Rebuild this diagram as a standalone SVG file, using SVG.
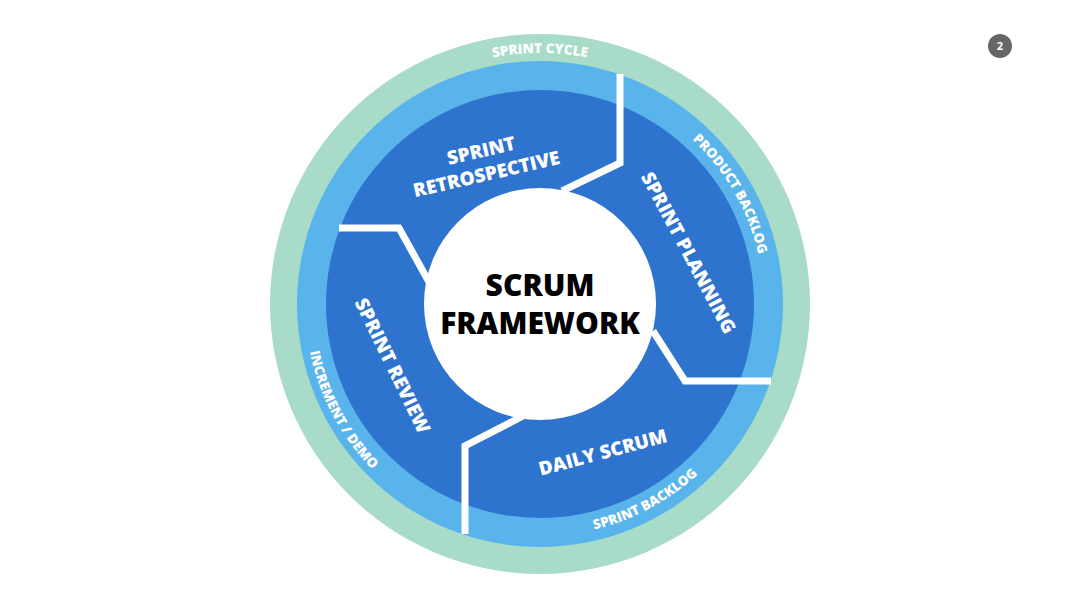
<svg xmlns="http://www.w3.org/2000/svg" width="1080" height="608" viewBox="0 0 1080 608">
<style>
.t{font-family:"Open Sans","Liberation Sans",sans-serif;font-weight:800;fill:#fff}
.r{font-size:13.5px}
.l{font-size:19px}
.sep{fill:none;stroke:#fff;stroke-width:7;stroke-linejoin:miter}
.c{font-family:"Open Sans","Liberation Sans",sans-serif;font-weight:800;font-size:30px;fill:#000}
</style>
<defs>
<path id="pc" d="M414.5,86.6 A251,251 0 0 1 665.5,86.6"/>
<path id="pb" d="M616.6,93.5 A224,224 0 0 1 760.6,342.9"/>
<path id="sb" d="M492,531 A233,233 0 0 0 756,390"/>
<path id="id" d="M310,258 A235,235 0 0 0 450,522"/>
</defs>
<rect width="1080" height="608" fill="#fff"/>
<g id="rings">
<circle cx="540" cy="304" r="270" fill="#a8dcc8"/>
<circle cx="540" cy="304" r="243" fill="#5ab4ec"/>
<circle cx="540" cy="304" r="214" fill="#2e74cf"/>
</g>
<g id="connectors">
<path class="sep" d="M620,74 V163 L562,191"/>
<path class="sep" d="M653,331 L685,381 H771"/>
<path class="sep" d="M465,534 V446 L523,416"/>
<path class="sep" d="M339,228 H399 L429,282"/>
</g>
<g id="center">
<circle cx="540" cy="304" r="116" fill="#fff"/>
<text x="540" y="296" text-anchor="middle" class="c">SCRUM</text>
<text x="540" y="334" text-anchor="middle" class="c">FRAMEWORK</text>
</g>
<g id="sprint-cycle"><text class="t r" text-anchor="middle"><textPath href="#pc" startOffset="50%">SPRINT CYCLE</textPath></text></g>
<g id="product-backlog"><text class="t r" text-anchor="middle"><textPath href="#pb" startOffset="50%">PRODUCT BACKLOG</textPath></text></g>
<g id="sprint-backlog"><text class="t r" text-anchor="middle"><textPath href="#sb" startOffset="50%">SPRINT BACKLOG</textPath></text></g>
<g id="increment-demo"><text class="t r" text-anchor="middle"><textPath href="#id" startOffset="50%">INCREMENT / DEMO</textPath></text></g>
<g id="retrospective"><text class="t l" text-anchor="middle" transform="translate(484,163) rotate(-13)"><tspan x="0" y="-6">SPRINT</tspan><tspan x="0" y="18">RETROSPECTIVE</tspan></text></g>
<g id="planning"><text class="t l" text-anchor="middle" transform="translate(688,253) rotate(62)" y="6">SPRINT PLANNING</text></g>
<g id="daily"><text class="t l" text-anchor="middle" transform="translate(603,453) rotate(-15)" y="6">DAILY SCRUM</text></g>
<g id="review"><text class="t l" text-anchor="middle" transform="translate(392,366) rotate(64)" y="6">SPRINT REVIEW</text></g>
<g id="page"><circle cx="1000" cy="46" r="12" fill="#666"/><text x="1000" y="50" text-anchor="middle" font-family="'Open Sans','Liberation Sans',sans-serif" font-weight="700" font-size="11" fill="#fff">2</text></g>
</svg>
